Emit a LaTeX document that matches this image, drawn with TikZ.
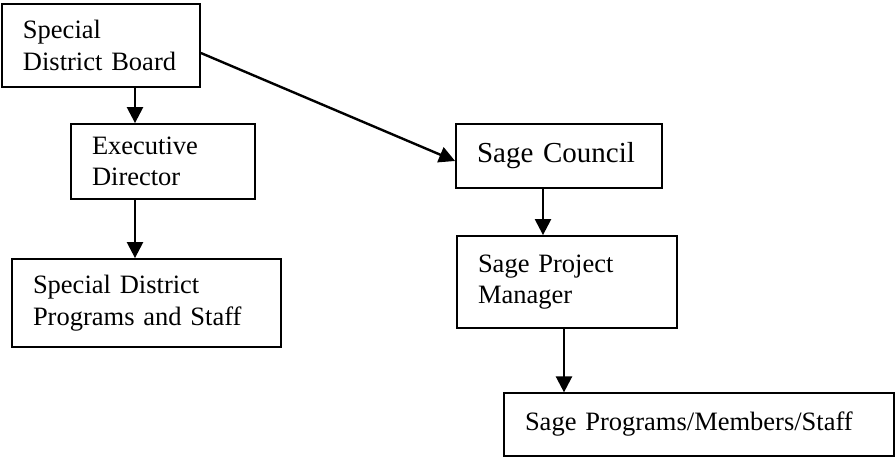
\documentclass[tikz,border=0pt]{standalone}
\usepackage{fontspec}
\setmainfont{Liberation Serif}
\usetikzlibrary{arrows.meta}
\tikzset{
  box/.style={draw, line width=1.8pt, rectangle, align=left, inner xsep=21pt, inner ysep=0pt,
    font=\fontsize{26.5}{31.5}\selectfont},
  arr/.style={line width=2.4pt, -{Triangle[length=16pt,width=16pt]}}
}
\begin{document}
\begin{tikzpicture}[x=1pt,y=-1pt]
\useasboundingbox (0,0) rectangle (895,457);
\node[box, text width=156pt, minimum height=83pt] (b1) at (101,45.5) {Special\\District Board};
\node[box, text width=142pt, minimum height=75pt] (b2) at (163,161.5) {Executive\\Director};
\node[box, text width=227pt, minimum height=88pt] (b3) at (146.5,303) {Special District\\Programs and Staff};
\node[box, text width=164pt, minimum height=64pt, font=\fontsize{29}{34}\selectfont] (b4) at (559,156) {Sage Council};
\node[box, line width=1.2pt, text width=348pt, minimum height=63pt] (b6) at (699,424.5) {Sage Programs/Members/Staff};
\node[box, text width=178pt, minimum height=92pt] (b5) at (567,282) {Sage Project\\Manager};
\coordinate (xa) at (135,0);
\coordinate (xd) at (543,0);
\coordinate (xe) at (564,0);
\coordinate (ya) at (0,53);
\coordinate (yc) at (0,161);
\draw[arr] (b1.south -| xa) -- (b2.north -| xa);
\draw[arr] (b2.south -| xa) -- (b3.north -| xa);
\draw[arr] (b1.east |- ya) -- (b4.west |- yc);
\draw[arr] (b4.south -| xd) -- (b5.north -| xd);
\draw[arr] (b5.south -| xe) -- (b6.north -| xe);
\end{tikzpicture}
\end{document}
